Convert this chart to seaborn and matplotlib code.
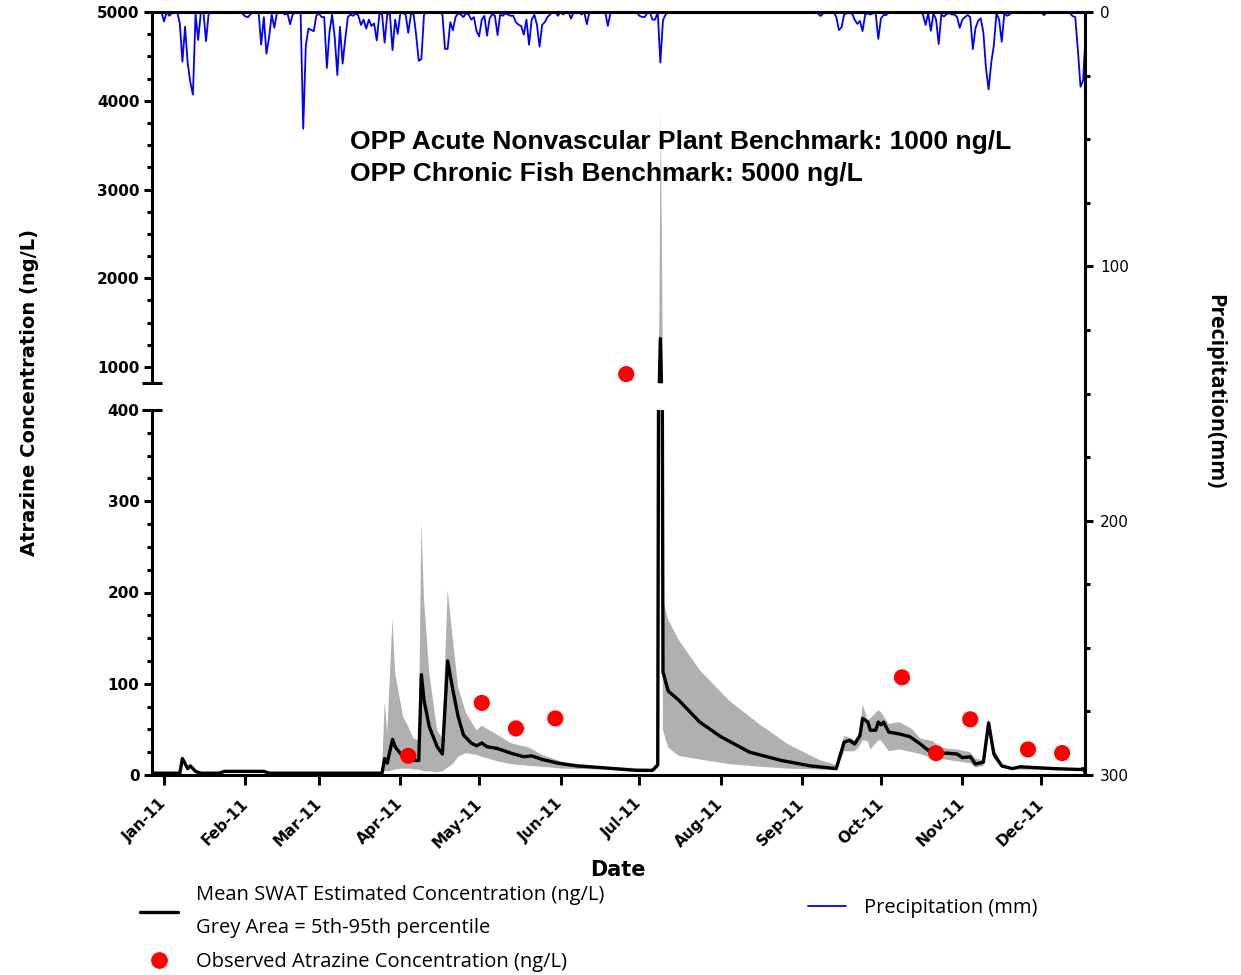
import numpy as np
import pandas as pd
import seaborn as sns
import matplotlib.pyplot as plt
import matplotlib.dates as mdates
from matplotlib.lines import Line2D
from matplotlib.ticker import MultipleLocator

sns.set_style("ticks")
plt.rcParams['font.family'] = ['DejaVu Sans']
plt.rcParams.update({
    "text.color": "black", "axes.labelcolor": "black", "axes.edgecolor": "black",
    "xtick.color": "black", "ytick.color": "black",
})

# Mean SWAT estimated atrazine concentration (ng/L)
mean_dates = [
    "2010-12-27", "2011-01-01", "2011-01-07", "2011-01-08", "2011-01-10", "2011-01-11",
    "2011-01-13", "2011-01-15", "2011-01-22", "2011-01-24", "2011-02-08", "2011-02-10",
    "2011-03-25", "2011-03-26", "2011-03-27", "2011-03-29", "2011-03-30", "2011-04-02",
    "2011-04-04", "2011-04-06", "2011-04-08", "2011-04-09", "2011-04-10", "2011-04-12",
    "2011-04-15", "2011-04-17", "2011-04-19", "2011-04-21", "2011-04-23", "2011-04-25",
    "2011-04-28", "2011-04-30", "2011-05-02", "2011-05-04", "2011-05-08", "2011-05-13",
    "2011-05-18", "2011-05-21", "2011-05-23", "2011-05-25", "2011-05-31", "2011-06-07",
    "2011-06-17", "2011-06-30", "2011-07-06", "2011-07-08", "2011-07-09", "2011-07-10",
    "2011-07-12", "2011-07-16", "2011-07-24", "2011-08-01", "2011-08-12", "2011-08-24",
    "2011-09-04", "2011-09-14", "2011-09-15", "2011-09-17", "2011-09-19", "2011-09-21",
    "2011-09-23", "2011-09-24", "2011-09-26", "2011-09-27", "2011-09-29", "2011-09-30",
    "2011-10-01", "2011-10-02", "2011-10-04", "2011-10-08", "2011-10-12", "2011-10-16",
    "2011-10-19", "2011-10-21", "2011-10-23", "2011-10-26", "2011-10-30", "2011-11-01",
    "2011-11-04", "2011-11-06", "2011-11-09", "2011-11-11", "2011-11-13", "2011-11-16",
    "2011-11-20", "2011-11-23", "2011-12-06", "2011-12-16", "2011-12-17", "2011-12-18",
]
mean_conc = [
    2, 2, 2, 18, 7, 10,
    4, 2, 2, 4, 4, 2,
    2, 18, 13, 39, 31, 20,
    18, 16, 16, 110, 82, 53,
    31, 23, 125, 93, 64, 44,
    35, 32, 35, 31, 29, 24,
    20, 21, 19, 17, 13, 10,
    8, 5, 5, 11, 1320, 113,
    92, 82, 58, 42, 25, 16,
    10, 7, 17, 36, 38, 34,
    43, 62, 58, 49, 49, 58,
    55, 58, 47, 45, 42, 34,
    27, 30, 23, 24, 23, 19,
    20, 12, 14, 57, 23, 10,
    7, 9, 7, 6, 7, 1,
]

# Grey area = 5th-95th percentile
band_dates = [
    "2011-03-25", "2011-03-26", "2011-03-27", "2011-03-29", "2011-03-30", "2011-04-02",
    "2011-04-04", "2011-04-06", "2011-04-08", "2011-04-09", "2011-04-10", "2011-04-12",
    "2011-04-15", "2011-04-17", "2011-04-19", "2011-04-21", "2011-04-23", "2011-04-26",
    "2011-04-30", "2011-05-02", "2011-05-08", "2011-05-13", "2011-05-20", "2011-05-25",
    "2011-06-02", "2011-06-17", "2011-07-06", "2011-07-08", "2011-07-09", "2011-07-10",
    "2011-07-12", "2011-07-16", "2011-07-24", "2011-08-04", "2011-08-16", "2011-08-27",
    "2011-09-08", "2011-09-14", "2011-09-15", "2011-09-17", "2011-09-19", "2011-09-21",
    "2011-09-23", "2011-09-24", "2011-09-26", "2011-09-27", "2011-09-30", "2011-10-01",
    "2011-10-04", "2011-10-08", "2011-10-13", "2011-10-16", "2011-10-21", "2011-10-23",
    "2011-10-30", "2011-11-04", "2011-11-06", "2011-11-09", "2011-11-11", "2011-11-13",
    "2011-11-16", "2011-11-20", "2011-12-16",
]
band_p05 = [
    1, 4, 4, 5, 6, 7,
    7, 6, 6, 5, 4, 4,
    3, 4, 8, 12, 20, 24,
    22, 20, 15, 12, 10, 9,
    7, 6, 4, 8, 600, 49,
    30, 21, 17, 12, 9, 7,
    6, 5, 12, 26, 26, 26,
    32, 38, 37, 28, 38, 38,
    26, 28, 25, 23, 18, 18,
    15, 13, 8, 10, 50, 18,
    8, 6, 5,
]
band_p95 = [
    2, 80, 46, 172, 112, 64,
    53, 40, 38, 277, 192, 112,
    49, 40, 203, 148, 96, 68,
    49, 54, 44, 35, 30, 22,
    14, 9, 7, 14, 3900, 192,
    170, 148, 115, 82, 55, 33,
    16, 11, 23, 43, 41, 38,
    48, 77, 60, 62, 71, 69,
    56, 58, 50, 40, 37, 30,
    28, 25, 18, 16, 63, 30,
    11, 8, 7,
]

# Observed atrazine concentration (ng/L)
obs_dates = ["2011-04-04", "2011-05-02", "2011-05-15", "2011-05-30", "2011-06-26",
             "2011-10-09", "2011-10-22", "2011-11-04", "2011-11-26", "2011-12-09"]
obs_conc = [21, 79, 51, 62, 920, 107, 24, 61, 28, 24]

# Daily precipitation (mm), rainy days only, as days after 1 Jan 2011
rain_day = [
    0, 2, 3, 6, 7, 8, 9, 10, 11, 12, 13, 14, 16, 17,
    30, 31, 32, 33, 37, 38, 39, 40, 41, 42, 43, 46, 47, 48, 49, 50,
    53, 54, 55, 56, 57, 58, 59, 60, 61, 62, 63, 64, 65, 66, 67, 68, 69, 70,
    71, 72, 73, 74, 75, 76, 77, 78, 79, 80, 81, 82, 83, 84, 85, 86, 87, 88,
    89, 90, 91, 92, 93, 94, 95, 96, 97, 98, 99, 101, 103,
    106, 107, 108, 109, 110, 111, 112, 113, 114, 115, 116, 117, 118, 119, 120,
    121, 122, 123, 124, 125, 126, 127, 128, 129, 130, 131, 132, 133, 134, 135,
    136, 137, 138, 139, 140, 141, 142, 143, 144, 145, 146, 147,
    150, 152, 155, 157, 159, 161, 163, 169, 170, 181, 182, 183, 184, 186, 187,
    189, 190, 191, 227, 249, 250, 251, 252, 256, 257, 258, 259, 260, 261, 262,
    263, 264, 265, 266, 267, 268, 269, 270, 271, 272, 273, 274, 275, 283,
    289, 290, 291, 292, 293, 294, 295, 296, 297, 298, 299, 300, 301, 302, 303,
    304, 305, 306, 307, 308, 309, 310, 311, 312, 313, 314, 315, 316, 317, 318,
    319, 320, 321, 322, 335, 336, 338, 345, 346, 347, 348, 349, 350, 351,
]
rain_mm = [
    3.7, 1.5, 0.5, 4.4, 19.5, 5.8, 20, 27.6, 32.5, 0.9, 11, 0.3, 11.5, 0.5,
    0.8, 1.8, 2.0, 0.8, 12.9, 2.0, 16.4, 10, 1, 6.2, 0.3, 1, 0.5, 4.8, 1, 0.3,
    45.9, 13, 6.5, 7, 7.6, 1.5, 0.5, 2, 2, 22, 8, 1, 10, 24.8, 5.8, 20.3, 10.7, 2,
    1, 1.5, 0.5, 1.5, 5.1, 3, 6.5, 3, 5.5, 4.5, 11.2, 1, 0.5, 12.1, 1, 0.8, 15, 3,
    8.6, 0.3, 0.5, 1, 8.2, 1, 0.5, 9, 19.2, 18.5, 1, 0.5, 0.5,
    1, 14.5, 14.5, 4, 7.2, 2, 0.5, 1, 2, 0.5, 1, 3, 2, 7.5, 9.6,
    3, 1.5, 9.3, 2.5, 0.8, 1.5, 9.1, 1, 1.5, 0.5, 1, 1.5, 1.5, 4, 5,
    5.5, 8.9, 3, 12.9, 3, 1, 5, 13.6, 5, 4, 2, 1,
    1.5, 1, 2.6, 0.5, 1, 4.8, 0.5, 5.5, 0.5, 1.5, 1.9, 2, 0.5, 3, 3,
    19.9, 3.2, 1, 0.5, 0.5, 1.6, 0.5, 0.3, 2, 7.1, 6, 1, 0.5, 0.5, 0.5,
    3, 4.7, 3.5, 7.5, 1, 0.5, 1, 0.5, 0.5, 10.6, 2.5, 1.2, 1.2, 0.5,
    1, 5.1, 0.5, 7.4, 0.5, 3, 12.6, 1, 1.8, 0.8, 0.5, 1, 1, 2, 6.2,
    3, 2, 1.2, 2, 14.6, 6.4, 3.5, 2.5, 8, 22, 30.4, 20, 13, 0.5, 3,
    11.7, 0.5, 1.5, 1, 1.2, 0.5, 0.5, 0.5, 1.6, 2, 15, 29.4, 26.8, 7.1,
]

mean_x = pd.to_datetime(mean_dates)
band_x = pd.to_datetime(band_dates)
obs_x = pd.to_datetime(obs_dates)

days = pd.date_range("2010-12-27", "2011-12-18", freq="D")
precip = pd.Series(0.0, index=days)
precip.loc[pd.Timestamp("2011-01-01") + pd.to_timedelta(rain_day, unit="D")] = rain_mm

x_lo, x_hi = pd.Timestamp("2010-12-27 10:00"), pd.Timestamp("2011-12-17 17:00")

# figure: broken concentration axis (two panels) + full-height precipitation axis
fig = plt.figure(figsize=(12.41, 9.75), dpi=100)
L, W = 152 / 1241, 933 / 1241
ax_top = fig.add_axes([L, 1 - 383 / 975, W, 371 / 975])
ax_bot = fig.add_axes([L, 1 - 775 / 975, W, 365 / 975])
ax_rain = fig.add_axes([L, 1 - 775 / 975, W, 763 / 975])
ax_rain.set_facecolor("none")

lw_axis = 2.2
tick_font = dict(fontsize=11, fontweight="bold")

for ax in (ax_top, ax_bot):
    ax.fill_between(band_x, band_p05, band_p95, color="#b0b0b0", lw=0, zorder=1)
    sns.lineplot(x=mean_x, y=mean_conc, ax=ax, color="black", lw=2.4, zorder=2)
    sns.scatterplot(x=obs_x, y=obs_conc, ax=ax, color="red", s=135,
                    edgecolor="none", zorder=3)
    ax.set_xlim(x_lo, x_hi)
    ax.set_xlabel("")
    ax.set_ylabel("")
    ax.spines["left"].set_linewidth(lw_axis)
    ax.spines["bottom"].set_linewidth(lw_axis)
    for s in ("top", "right"):
        ax.spines[s].set_visible(False)
    ax.tick_params(which="major", length=6, width=lw_axis, pad=3)
    ax.tick_params(which="minor", length=3.5, width=lw_axis)

ax_top.set_ylim(820, 5000)
ax_top.yaxis.set_major_locator(MultipleLocator(1000))
ax_top.yaxis.set_minor_locator(MultipleLocator(250))
ax_top.spines["bottom"].set_visible(False)
ax_top.tick_params(axis="x", which="both", bottom=False, labelbottom=False)

ax_bot.set_ylim(0, 400)
ax_bot.yaxis.set_major_locator(MultipleLocator(100))
ax_bot.yaxis.set_minor_locator(MultipleLocator(25))
ax_bot.xaxis.set_major_locator(mdates.MonthLocator())
ax_bot.xaxis.set_major_formatter(mdates.DateFormatter("%b-%y"))
ax_bot.tick_params(axis="x", which="major", length=7, pad=12)
ax_bot.tick_params(axis="x", which="minor", bottom=False)

for ax in (ax_top, ax_bot):
    for lab in ax.get_yticklabels():
        lab.set(**tick_font)
for lab in ax_bot.get_xticklabels():
    lab.set(rotation=45, ha="right", va="center", rotation_mode="anchor", **tick_font)

# caps on the broken axis
ax_top.plot([-0.011, 0.011], [0, 0], transform=ax_top.transAxes, color="black",
            lw=lw_axis, clip_on=False, solid_capstyle="butt")
ax_bot.plot([-0.011, 0.011], [1, 1], transform=ax_bot.transAxes, color="black",
            lw=lw_axis, clip_on=False, solid_capstyle="butt")

# precipitation on the inverted right axis
sns.lineplot(x=precip.index, y=precip.values, ax=ax_rain, color="blue", lw=1.3)
ax_rain.set_xlim(x_lo, x_hi)
ax_rain.set_ylim(300, 0)
ax_rain.set_xlabel("")
ax_rain.set_ylabel("")
ax_rain.yaxis.tick_right()
ax_rain.yaxis.set_major_locator(MultipleLocator(100))
ax_rain.yaxis.set_minor_locator(MultipleLocator(25))
ax_rain.tick_params(axis="x", which="both", bottom=False, top=False,
                    labelbottom=False, labeltop=False)
ax_rain.tick_params(axis="y", which="major", length=6, width=lw_axis, pad=5,
                    labelsize=11)
ax_rain.tick_params(axis="y", which="minor", length=3.5, width=lw_axis)
for s in ("left", "bottom"):
    ax_rain.spines[s].set_visible(False)
for s in ("top", "right"):
    ax_rain.spines[s].set_visible(True)
    ax_rain.spines[s].set_linewidth(lw_axis)

# benchmark notes
note_font = dict(fontsize=19, fontweight="bold", family=["Liberation Sans", "DejaVu Sans"])
ax_top.text(0.2122, 0.6496, "OPP Acute Nonvascular Plant Benchmark: 1000 ng/L",
            transform=ax_top.transAxes, va="center", ha="left", zorder=5, **note_font)
ax_top.text(0.2122, 0.5633, "OPP Chronic Fish Benchmark: 5000 ng/L",
            transform=ax_top.transAxes, va="center", ha="left", zorder=5, **note_font)

# axis titles
fig.text(30 / 1241, 1 - 393 / 975, "Atrazine Concentration (ng/L)", rotation=90,
         ha="center", va="center", fontsize=14, fontweight="bold")
fig.text(1215 / 1241, 1 - 392 / 975, "Precipitation(mm)", rotation=270,
         ha="center", va="center", fontsize=15.5, fontweight="bold",
         family=["Open Sans", "DejaVu Sans"])
fig.text(618 / 1241, 1 - 870 / 975, "Date", ha="center", va="center",
         fontsize=15, fontweight="bold")

# legends
leg_font = dict(family=["Open Sans", "DejaVu Sans"], size=14.5)
mean_handle = Line2D([], [], color="black", lw=2.4)
obs_handle = Line2D([], [], color="red", marker="o", ls="none", markersize=11)
rain_handle = Line2D([], [], color="blue", lw=1.3)
leg1 = fig.legend([mean_handle, obs_handle],
                  ["Mean SWAT Estimated Concentration (ng/L)\nGrey Area = 5th-95th percentile",
                   "Observed Atrazine Concentration (ng/L)"],
                  loc="upper left", bbox_to_anchor=(140 / 1241, 1 - 885 / 975),
                  frameon=False, prop=leg_font, handlelength=1.9, handletextpad=0.9,
                  labelspacing=0.7, borderpad=0, borderaxespad=0)
for t in leg1.get_texts():
    t.set_linespacing(1.85)
fig.legend([rain_handle], ["Precipitation (mm)"], loc="upper left",
           bbox_to_anchor=(808 / 1241, 1 - 898 / 975), frameon=False, prop=leg_font,
           handlelength=1.9, handletextpad=0.9, borderpad=0, borderaxespad=0)

fig.savefig("out.png", dpi=100)
